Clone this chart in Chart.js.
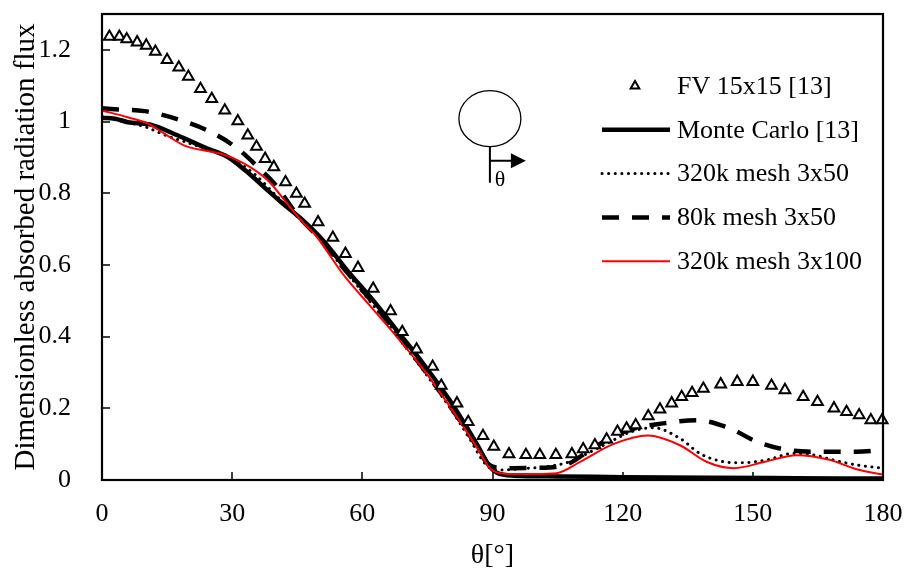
<!DOCTYPE html>
<html>
<head>
<meta charset="utf-8">
<script src="https://cdn.jsdelivr.net/npm/chart.js@4.4.0/dist/chart.umd.min.js"></script>
<style>
  html, body { margin: 0; padding: 0; background: #fff; }
  #chart { display: block; }
</style>
</head>
<body>
<canvas id="chart" width="906" height="572"></canvas>
<script>
const SERIF = "'Liberation Serif', 'Times New Roman', serif";

const thetaTicks = [0, 30, 60, 90, 120, 150, 180];
const fluxTicks = [0, 0.2, 0.4, 0.6, 0.8, 1.0, 1.2];

const seriesLabels = ['FV 15x15 [13]', 'Monte Carlo [13]', '320k mesh 3x50', '80k mesh 3x50', '320k mesh 3x100'];

// FV 15x15 reference points
const fvTheta = [1.7, 4.0, 5.7, 8.1, 10.2, 12.3, 15.0, 17.7, 19.9, 22.7, 25.3, 28.3, 31.3, 33.6, 35.6,
  37.6, 39.6, 42.3, 44.8, 46.7, 49.8, 53.2, 56.1, 59.0, 62.5, 66.5, 69.2, 72.5, 76.2, 78.2,
  81.8, 84.4, 87.8, 90.3, 93.8, 97.7, 100.9, 104.6, 108.3, 110.9, 113.6, 116.3, 118.8, 120.9, 123.0,
  125.9, 128.6, 131.3, 133.6, 136.0, 138.6, 142.6, 146.4, 150.0, 154.3, 157.4, 161.6, 164.9, 168.7, 171.6,
  174.5, 177.2, 179.8];
const fvFlux = [1.237, 1.237, 1.230, 1.221, 1.212, 1.195, 1.172, 1.151, 1.125, 1.091, 1.063, 1.031, 1.001, 0.961, 0.930,
  0.896, 0.873, 0.831, 0.799, 0.771, 0.719, 0.676, 0.631, 0.592, 0.534, 0.471, 0.413, 0.364, 0.316, 0.263,
  0.214, 0.162, 0.123, 0.093, 0.072, 0.070, 0.070, 0.070, 0.072, 0.086, 0.097, 0.113, 0.135, 0.144, 0.153,
  0.178, 0.197, 0.214, 0.232, 0.243, 0.255, 0.267, 0.274, 0.274, 0.263, 0.251, 0.232, 0.218, 0.200, 0.190,
  0.181, 0.167, 0.167];

// Monte Carlo reference
const mcTheta = [0, 3, 6, 11, 17.5, 23.6, 29, 33, 38.2, 41.3, 45.5, 50.9, 57.1, 62.5, 67.9,
  74, 80.1, 86.3, 89.4, 91, 95, 105, 120, 140, 160, 180];
const mcFlux = [1.01, 1.008, 0.998, 0.992, 0.961, 0.928, 0.901, 0.864, 0.808, 0.775, 0.733, 0.669, 0.576, 0.501, 0.418,
  0.325, 0.223, 0.102, 0.037, 0.02, 0.012, 0.01, 0.008, 0.006, 0.005, 0.004];

// 320k mesh, 3x50 directions
const fine50Theta = [0, 5, 10, 15, 20, 25, 30, 35, 40, 45, 50, 55, 60, 65, 70, 75, 80, 85, 88, 90,
  92, 97, 102.4, 107.8, 112, 117.8, 122, 127, 133.2, 137.8, 142.4, 147, 153.2, 159.3, 164, 168.5, 173.9, 180];
const fine50Flux = [1.015, 1.0, 0.985, 0.96, 0.94, 0.92, 0.895, 0.855, 0.795, 0.735, 0.675, 0.6, 0.525, 0.45, 0.37, 0.29, 0.205, 0.11, 0.05, 0.03,
  0.028, 0.032, 0.037, 0.051, 0.075, 0.111, 0.135, 0.146, 0.116, 0.074, 0.053, 0.048, 0.056, 0.074, 0.07, 0.056, 0.042, 0.033];

// 80k mesh, 3x50 directions
const coarse50Theta = [0, 2.1, 9.8, 18.3, 25.2, 31.3, 36.7, 39.8, 45, 50, 55, 60, 65, 70, 75, 80, 85, 89,
  92.4, 100.9, 107.8, 112, 117.8, 123, 129.3, 137, 144.7, 150.9, 157.8, 164, 173.9, 180];
const coarse50Flux = [1.037, 1.035, 1.029, 1.003, 0.970, 0.924, 0.864, 0.826, 0.74, 0.675, 0.6, 0.53, 0.455, 0.375, 0.295, 0.21, 0.12, 0.045,
  0.033, 0.034, 0.047, 0.08, 0.121, 0.145, 0.158, 0.167, 0.144, 0.107, 0.084, 0.079, 0.079, 0.084];

// 320k mesh, 3x100 directions
const fine100Theta = [0, 5.9, 10.6, 14.4, 19, 23.6, 27.5, 32.9, 38.2, 42.1, 45.9, 49.4, 55.5, 61.7, 67.9, 74, 80.1, 86.3, 89.4,
  91.7, 94.7, 100, 104.8, 110.1, 117.8, 125.8, 133.2, 139.3, 145.7, 152.8, 160.1, 167.4, 173.9, 180];
const fine100Flux = [1.031, 1.012, 0.994, 0.966, 0.933, 0.919, 0.910, 0.882, 0.836, 0.780, 0.724, 0.68, 0.575, 0.487, 0.4, 0.31, 0.206, 0.093, 0.033,
  0.019, 0.017, 0.017, 0.019, 0.05, 0.1, 0.124, 0.097, 0.051, 0.033, 0.051, 0.069, 0.057, 0.03, 0.015];

const pts = (xs, ys) => xs.map((x, i) => ({ x, y: ys[i] }));

// frame around the plot area with inward tick marks on the left and bottom
const axisFrame = {
  id: 'axisFrame',
  afterDraw(chart) {
    const { ctx, chartArea: a, scales: { x, y } } = chart;
    ctx.save();
    ctx.strokeStyle = '#000';
    ctx.lineWidth = 1.5;
    ctx.beginPath();
    x.ticks.forEach(t => {
      const px = Math.round(x.getPixelForValue(t.value));
      ctx.moveTo(px, a.bottom);
      ctx.lineTo(px, a.bottom - 8);
    });
    y.ticks.forEach(t => {
      const py = Math.round(y.getPixelForValue(t.value));
      ctx.moveTo(a.left, py);
      ctx.lineTo(a.left + 8, py);
    });
    ctx.stroke();
    ctx.lineWidth = 2.2;
    ctx.strokeRect(a.left, a.top, a.right - a.left, a.bottom - a.top);
    ctx.restore();
  }
};

// legend drawn inside the plot, upper right
const insideLegend = {
  id: 'insideLegend',
  afterDraw(chart) {
    const { ctx, chartArea: a } = chart;
    const x0 = a.right - 281, x1 = a.right - 213, tx = a.right - 206;
    ctx.save();
    chart.data.datasets.forEach((ds, i) => {
      const cy = a.top + 72 + i * 43.8;
      if (ds.showLine === false) {
        const cx = a.right - 248, r = 5;
        ctx.beginPath();
        ctx.moveTo(cx, cy - r);
        ctx.lineTo(cx + r * 0.866, cy + r / 2);
        ctx.lineTo(cx - r * 0.866, cy + r / 2);
        ctx.closePath();
        ctx.fillStyle = '#fff';
        ctx.fill();
        ctx.lineWidth = 2;
        ctx.strokeStyle = '#000';
        ctx.setLineDash([]);
        ctx.stroke();
      } else {
        ctx.beginPath();
        ctx.lineWidth = ds.borderWidth;
        ctx.strokeStyle = ds.borderColor;
        ctx.lineCap = ds.borderCapStyle || 'butt';
        ctx.setLineDash(ds.borderDash || []);
        ctx.moveTo(x0, cy);
        ctx.lineTo(x1, cy);
        ctx.stroke();
      }
      ctx.setLineDash([]);
      ctx.fillStyle = '#000';
      ctx.font = `26px ${SERIF}`;
      ctx.textAlign = 'left';
      ctx.textBaseline = 'middle';
      ctx.fillText(ds.label, tx, cy + 1);
    });
    ctx.restore();
  }
};

// small sketch of the cylinder with the angle direction
const cylinderSketch = {
  id: 'cylinderSketch',
  afterDraw(chart) {
    const { ctx, scales: { x, y } } = chart;
    const cx = x.getPixelForValue(89.4), cy = y.getPixelForValue(1.008);
    ctx.save();
    ctx.strokeStyle = '#000';
    ctx.fillStyle = '#000';
    ctx.lineWidth = 1.3;
    ctx.beginPath();
    ctx.ellipse(cx, cy, 31, 28, 0, 0, Math.PI * 2);
    ctx.stroke();
    ctx.lineWidth = 2;
    ctx.beginPath();
    ctx.moveTo(cx, cy + 28);
    ctx.lineTo(cx, cy + 64);
    ctx.moveTo(cx, cy + 42);
    ctx.lineTo(cx + 23, cy + 42);
    ctx.stroke();
    ctx.beginPath();
    ctx.moveTo(cx + 21, cy + 34.5);
    ctx.lineTo(cx + 36, cy + 42);
    ctx.lineTo(cx + 21, cy + 49.5);
    ctx.closePath();
    ctx.fill();
    ctx.font = `22px ${SERIF}`;
    ctx.textAlign = 'center';
    ctx.textBaseline = 'middle';
    ctx.fillText('θ', cx + 10, cy + 62);
    ctx.restore();
  }
};

const lineBase = { pointRadius: 0, fill: false, cubicInterpolationMode: 'monotone' };

new Chart(document.getElementById('chart').getContext('2d'), {
  type: 'line',
  data: {
    datasets: [
      {
        label: seriesLabels[0],
        data: pts(fvTheta, fvFlux),
        showLine: false,
        pointStyle: 'triangle',
        pointRadius: 6.2,
        pointBorderWidth: 2,
        pointBackgroundColor: '#fff',
        pointBorderColor: '#000',
        borderColor: '#000',
        clip: false,
        order: 0
      },
      {
        ...lineBase,
        label: seriesLabels[1],
        data: pts(mcTheta, mcFlux),
        borderColor: '#000',
        borderWidth: 4.5,
        order: 2
      },
      {
        ...lineBase,
        label: seriesLabels[2],
        data: pts(fine50Theta, fine50Flux),
        borderColor: '#000',
        borderWidth: 3,
        borderDash: [0.1, 6.5],
        borderCapStyle: 'round',
        order: 3
      },
      {
        ...lineBase,
        label: seriesLabels[3],
        data: pts(coarse50Theta, coarse50Flux),
        borderColor: '#000',
        borderWidth: 4.5,
        borderDash: [17, 13],
        order: 4
      },
      {
        ...lineBase,
        label: seriesLabels[4],
        data: pts(fine100Theta, fine100Flux),
        borderColor: '#ff0000',
        borderWidth: 2,
        order: 1
      }
    ]
  },
  options: {
    responsive: false,
    animation: false,
    devicePixelRatio: 1,
    layout: { padding: { top: 14, right: 23, bottom: 0, left: 0 } },
    plugins: { legend: { display: false }, tooltip: { enabled: false } },
    scales: {
      x: {
        type: 'linear',
        min: 0,
        max: 180,
        afterBuildTicks: s => { s.ticks = thetaTicks.map(v => ({ value: v })); },
        afterFit: s => { s.height = 92; s.paddingLeft = 0; s.paddingRight = 0; },
        grid: { display: false },
        border: { display: false },
        ticks: { color: '#000', font: { family: SERIF, size: 26 }, padding: 11, maxRotation: 0 },
        title: { display: true, text: 'θ[°]', color: '#000', font: { family: SERIF, size: 28 }, padding: { top: 0, bottom: 0 } }
      },
      y: {
        type: 'linear',
        min: 0,
        max: 1.3,
        afterBuildTicks: s => { s.ticks = fluxTicks.map(v => ({ value: v })); },
        afterFit: s => { s.width = 102; s.paddingTop = 0; s.paddingBottom = 0; },
        grid: { display: false },
        border: { display: false },
        ticks: { color: '#000', font: { family: SERIF, size: 26 }, padding: 23, callback: v => String(+v.toFixed(1)) },
        title: { display: true, text: 'Dimensionless absorbed radiation flux', color: '#000', font: { family: SERIF, size: 29 }, padding: { top: 9, bottom: 0 } }
      }
    }
  },
  plugins: [axisFrame, cylinderSketch, insideLegend]
});
</script>
</body>
</html>
